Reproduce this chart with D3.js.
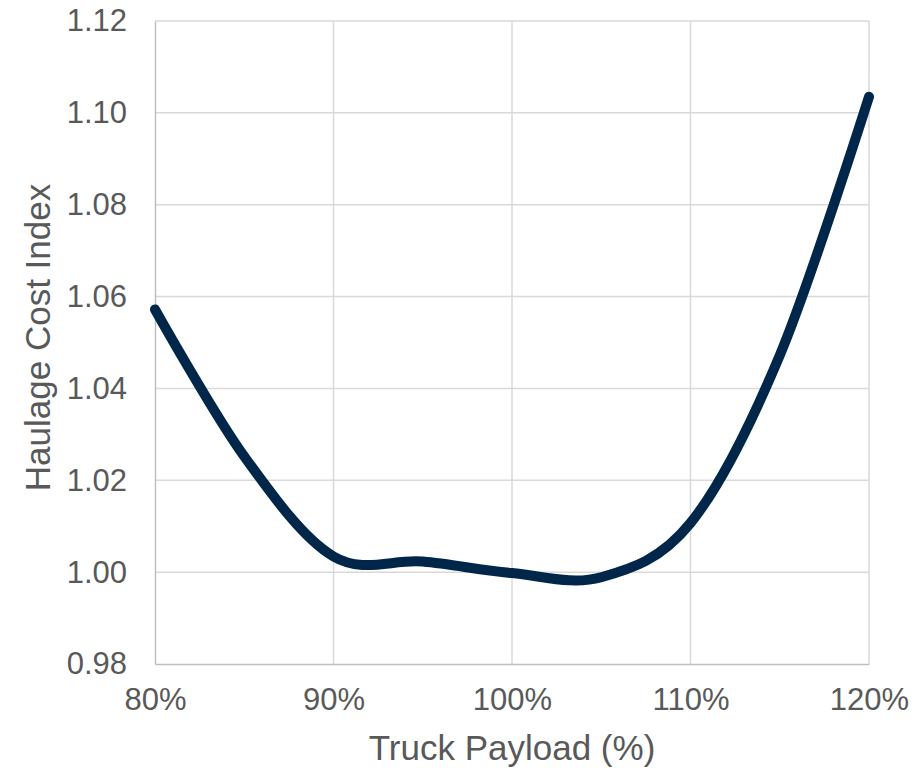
<!DOCTYPE html>
<html><head><meta charset="utf-8">
<script src="https://cdn.jsdelivr.net/npm/d3@7"></script>
<style>body{margin:0;background:#fff;}svg{display:block;}</style>
</head><body>
<script>
const payload = [80, 85, 90, 95, 100, 105, 110, 115, 120];
const costIndex = [1.0572, 1.0252, 1.0034, 1.0023, 0.9998, 0.9989, 1.0107, 1.0472, 1.1035];
const xTicks = [80, 90, 100, 110, 120];
const yTicks = [0.98, 1.00, 1.02, 1.04, 1.06, 1.08, 1.10, 1.12];
const xTitle = "Truck Payload (%)";
const yTitle = "Haulage Cost Index";

const W = 923, H = 768;
const m = {left:155, right:869, top:21, bottom:664};
const svg = d3.select("body").append("svg").attr("width", W).attr("height", H);
const x = d3.scaleLinear().domain([80,120]).range([m.left, m.right]);
const y = d3.scaleLinear().domain([0.98,1.12]).range([m.bottom, m.top]);
const font = "'Liberation Sans', Arial, sans-serif";
const txt = "#595959";

// grid
svg.append("g").selectAll("line.h").data(yTicks.filter(v=>v>0.98)).join("line")
  .attr("x1", m.left).attr("x2", m.right).attr("y1", d=>y(d)).attr("y2", d=>y(d))
  .attr("stroke", "#d9d9d9").attr("stroke-width", 1.5);
svg.append("g").selectAll("line.v").data(xTicks.filter(v=>v>80)).join("line")
  .attr("x1", d=>x(d)).attr("x2", d=>x(d)).attr("y1", m.top).attr("y2", m.bottom)
  .attr("stroke", "#d9d9d9").attr("stroke-width", 1.5);

// axes
const xAxis = svg.append("g").attr("transform", `translate(0,${m.bottom})`)
  .call(d3.axisBottom(x).tickValues(xTicks).tickFormat(d=>d+"%").tickSize(0).tickPadding(24));
const yAxis = svg.append("g").attr("transform", `translate(${m.left},0)`)
  .call(d3.axisLeft(y).tickValues(yTicks).tickFormat(d3.format(".2f")).tickSize(0).tickPadding(28));
[xAxis, yAxis].forEach(g=>{
  g.select(".domain").attr("stroke", "#bfbfbf").attr("stroke-width", 1.5);
  g.selectAll("text").attr("font-family", font).attr("font-size", 31).attr("fill", txt);
});
xAxis.selectAll("text").attr("dy", "0.71em");

// line
const line = d3.line().x(d=>x(d[0])).y(d=>y(d[1])).curve(d3.curveCardinal.tension(0));
svg.append("path").datum(payload.map((p,i)=>[p, costIndex[i]]))
  .attr("d", line).attr("fill", "none").attr("stroke", "#002749")
  .attr("stroke-width", 10).attr("stroke-linecap", "round").attr("stroke-linejoin", "round");

// titles
svg.append("text").attr("x", (m.left+m.right)/2).attr("y", 760)
  .attr("text-anchor", "middle").attr("font-family", font).attr("font-size", 35).attr("fill", txt)
  .text(xTitle);
svg.append("text").attr("transform", `translate(50,${(m.top+m.bottom)/2 - 5}) rotate(-90)`)
  .attr("text-anchor", "middle").attr("font-family", font).attr("font-size", 35).attr("fill", txt)
  .text(yTitle);
</script>
</body></html>
